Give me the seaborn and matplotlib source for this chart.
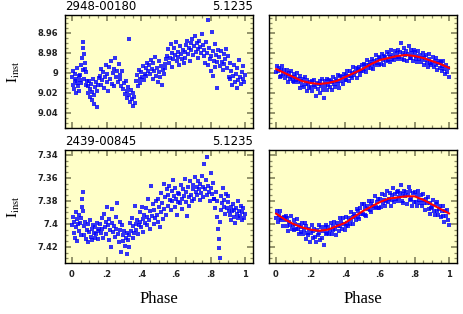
import matplotlib
matplotlib.use("Agg")
import matplotlib.pyplot as plt
import seaborn as sns
import pandas as pd
from matplotlib.ticker import MultipleLocator, FixedLocator, FixedFormatter

# ---------------- data ----------------
star_names = ["2948-00180", "2439-00845"]
period_label = "5.1235"

x_ticks = [0, 0.2, 0.4, 0.6, 0.8, 1.0]
x_tick_labels = ["0", ".2", ".4", ".6", ".8", "1"]
top_y_ticks = [8.96, 8.98, 9.00, 9.02, 9.04]
top_y_labels = ["8.96", "8.98", "9", "9.02", "9.04"]
bot_y_ticks = [7.34, 7.36, 7.38, 7.40, 7.42]
bot_y_labels = ["7.34", "7.36", "7.38", "7.4", "7.42"]

# top-left: star 1 folded at 5.1235
tl_phase = [
    0.003, 0.006, 0.009, 0.012, 0.015, 0.018, 0.021, 0.024, 0.027, 0.030, 0.034, 0.038, 0.041, 0.044,
    0.048, 0.052, 0.055, 0.058, 0.061, 0.064, 0.066, 0.068, 0.071, 0.074, 0.077, 0.080, 0.083, 0.086,
    0.090, 0.094, 0.098, 0.102, 0.106, 0.110, 0.114, 0.118, 0.122, 0.126, 0.130, 0.134, 0.138, 0.142, 0.146, 0.150, 0.155,
    0.160, 0.165, 0.170, 0.175, 0.180, 0.185, 0.190, 0.195, 0.200, 0.205, 0.210, 0.215, 0.220, 0.225, 0.230, 0.235,
    0.240, 0.245, 0.250, 0.255, 0.260, 0.265, 0.270, 0.275,
    0.280, 0.285, 0.290, 0.295, 0.300, 0.305, 0.310, 0.315, 0.320, 0.325, 0.330, 0.335, 0.340, 0.345, 0.350, 0.355, 0.360, 0.365,
    0.332, 0.370, 0.375, 0.380, 0.385, 0.390, 0.395, 0.400, 0.405, 0.410, 0.415, 0.420, 0.425, 0.430, 0.435, 0.440,
    0.445, 0.450, 0.455, 0.460, 0.465, 0.470, 0.475, 0.480, 0.485, 0.490, 0.495, 0.500, 0.505, 0.510, 0.515, 0.520,
    0.525, 0.530, 0.535, 0.540, 0.545,
    0.550, 0.555, 0.560, 0.565, 0.570, 0.575, 0.580, 0.585, 0.590, 0.595, 0.600, 0.605, 0.610, 0.615, 0.620, 0.625,
    0.630, 0.635, 0.640, 0.645,
    0.650, 0.655, 0.660, 0.665, 0.670, 0.675, 0.680, 0.685, 0.690, 0.695, 0.700, 0.705, 0.710, 0.715, 0.720, 0.725,
    0.730, 0.735, 0.740, 0.745, 0.750, 0.755, 0.760, 0.765, 0.770, 0.775,
    0.780, 0.784, 0.788, 0.792, 0.796, 0.800, 0.804, 0.808, 0.812, 0.816, 0.820, 0.824, 0.828, 0.832, 0.836, 0.840, 0.845,
    0.850, 0.855, 0.860, 0.865, 0.870, 0.875, 0.880, 0.885, 0.890, 0.895, 0.900, 0.905, 0.910,
    0.915, 0.920, 0.925, 0.930, 0.935, 0.940, 0.945, 0.950, 0.955, 0.960, 0.965, 0.970, 0.975, 0.980, 0.985, 0.990,
    0.995, 0.998,
]
tl_mag = [
    9.004, 9.012, 8.998, 9.016, 9.008, 9.001, 9.020, 9.006, 8.995, 9.010, 9.013, 9.003, 9.018, 9.007,
    9.002, 8.992, 9.010, 8.985, 8.997, 8.975, 8.969, 8.981, 9.006, 8.990, 8.996, 9.012, 8.999, 9.008,
    9.013, 9.020, 9.008, 9.024, 9.016, 9.011, 9.027, 9.019, 9.006, 9.022, 9.031, 9.014, 9.009, 9.018, 9.034, 9.012, 9.005,
    9.003, 8.996, 9.012, 9.007, 8.999, 9.015, 9.004, 8.992, 9.009, 9.001, 9.018, 8.994, 9.006, 8.988, 9.011, 9.000,
    8.996, 9.013, 8.985, 9.004, 8.998, 9.009, 8.991, 9.002,
    9.006, 9.013, 8.998, 9.016, 9.010, 9.021, 9.008, 9.018, 9.025, 9.014, 9.022, 9.029, 9.017, 9.026, 9.020, 9.033, 9.024, 9.030,
    8.966, 9.008, 9.002, 9.013, 8.997, 9.006, 9.010, 8.999, 9.004, 8.993, 9.007, 9.001, 8.995, 9.003, 8.990, 8.998,
    8.992, 9.001, 8.987, 8.996, 9.006, 8.990, 8.998, 8.984, 9.003, 8.995, 9.009, 8.999, 8.988, 9.004, 8.993, 9.012,
    8.997, 9.001, 8.991, 8.995, 8.986,
    8.983, 8.976, 8.990, 8.985, 8.971, 8.980, 8.994, 8.986, 8.975, 8.982, 8.969, 8.988, 8.979, 8.984, 8.992, 8.973,
    8.981, 8.986, 8.977, 8.990,
    8.979, 8.985, 8.972, 8.968, 8.981, 8.975, 8.988, 8.970, 8.977, 8.966, 8.982, 8.973, 8.963, 8.979, 8.970, 8.976,
    8.985, 8.968, 8.974, 8.980, 8.961, 8.972, 8.983, 8.977, 8.990, 8.969,
    8.980, 8.947, 8.992, 8.975, 8.986, 8.998, 8.983, 8.959, 8.978, 9.003, 8.988, 8.971, 8.994, 8.982, 9.015, 8.989, 8.977,
    8.984, 8.993, 8.978, 8.989, 8.997, 8.981, 8.991, 8.986, 8.976, 8.995, 8.983, 9.004, 8.990,
    9.006, 8.998, 9.012, 9.003, 8.992, 9.009, 9.001, 9.015, 8.995, 9.007, 8.987, 9.004, 9.011, 8.999, 9.006, 8.993,
    9.009, 9.002,
]

# top-right: star 1 folded at its true period, with fitted curve
tr_phase = [
    0.002, 0.007, 0.011, 0.016, 0.022, 0.027, 0.031, 0.036, 0.042, 0.047, 0.052, 0.056, 0.061, 0.067, 0.072, 0.076, 0.081, 0.087, 0.092, 0.097,
    0.102, 0.106, 0.111, 0.117, 0.121, 0.126, 0.132, 0.137, 0.141, 0.146, 0.152, 0.157, 0.161, 0.166, 0.172, 0.177, 0.181, 0.186, 0.192, 0.197,
    0.202, 0.206, 0.211, 0.217, 0.221, 0.226, 0.232, 0.237, 0.241, 0.246, 0.252, 0.257, 0.261, 0.266, 0.272, 0.277, 0.281, 0.286, 0.292, 0.297,
    0.302, 0.306, 0.311, 0.317, 0.321, 0.326, 0.332, 0.337, 0.341, 0.346, 0.352, 0.357, 0.361, 0.366, 0.372, 0.377, 0.381, 0.386, 0.392, 0.397,
    0.402, 0.406, 0.411, 0.417, 0.421, 0.426, 0.432, 0.437, 0.441, 0.446, 0.452, 0.457, 0.461, 0.466, 0.472, 0.477, 0.481, 0.486, 0.492, 0.497,
    0.502, 0.506, 0.511, 0.517, 0.521, 0.526, 0.532, 0.537, 0.541, 0.546, 0.552, 0.557, 0.561, 0.566, 0.572, 0.577, 0.581, 0.586, 0.592, 0.597,
    0.602, 0.606, 0.611, 0.617, 0.621, 0.626, 0.632, 0.637, 0.641, 0.646, 0.652, 0.657, 0.661, 0.666, 0.672, 0.677, 0.681, 0.686, 0.692, 0.697,
    0.702, 0.706, 0.711, 0.717, 0.721, 0.726, 0.732, 0.737, 0.741, 0.746, 0.752, 0.757, 0.761, 0.766, 0.772, 0.777, 0.781, 0.786, 0.792, 0.797,
    0.802, 0.806, 0.811, 0.817, 0.821, 0.826, 0.832, 0.837, 0.841, 0.846, 0.852, 0.857, 0.861, 0.866, 0.872, 0.877, 0.881, 0.886, 0.892, 0.897,
    0.902, 0.906, 0.911, 0.917, 0.921, 0.926, 0.932, 0.937, 0.941, 0.946, 0.952, 0.957, 0.961, 0.966, 0.972, 0.977, 0.981, 0.986, 0.992, 0.997,
]
tr_mag = [
    8.999, 8.993, 8.998, 8.995, 9.004, 8.997, 9.003, 8.993, 9.001, 8.997, 9.005, 9.001, 8.997, 9.003, 9.009, 9.000, 9.006, 8.998, 9.004, 9.008,
    9.001, 9.009, 9.004, 9.007, 9.000, 9.009, 9.006, 9.015, 9.003, 9.008, 9.012, 9.006, 9.014, 9.004, 9.011, 9.018, 9.007, 9.011, 9.015, 9.009,
    9.014, 9.008, 9.018, 9.012, 9.007, 9.014, 9.023, 9.010, 9.016, 9.011, 9.008, 9.020, 9.013, 9.006, 9.017, 9.025, 9.008, 9.013, 9.017, 9.006,
    9.012, 9.007, 9.014, 9.008, 9.017, 9.009, 9.004, 9.011, 9.014, 9.006, 9.008, 9.002, 9.011, 9.015, 9.003, 9.008, 9.004, 9.011, 9.001, 9.007,
    9.002, 9.007, 8.998, 9.003, 9.008, 8.998, 9.003, 9.000, 9.005, 8.994, 9.002, 8.999, 8.995, 9.005, 8.996, 8.998, 8.994, 9.002, 8.998, 8.992,
    8.998, 8.991, 8.996, 8.992, 8.999, 8.987, 8.995, 8.992, 8.989, 8.995, 8.986, 8.991, 8.996, 8.988, 8.992, 8.982, 8.990, 8.987, 8.992, 8.984,
    8.985, 8.991, 8.981, 8.987, 8.983, 8.992, 8.984, 8.988, 8.979, 8.987, 8.981, 8.984, 8.989, 8.977, 8.986, 8.982, 8.987, 8.978, 8.984, 8.980,
    8.986, 8.977, 8.984, 8.979, 8.970, 8.986, 8.980, 8.987, 8.975, 8.982, 8.978, 8.988, 8.981, 8.973, 8.985, 8.977, 8.985, 8.980, 8.988, 8.977,
    8.979, 8.986, 8.983, 8.989, 8.978, 8.986, 8.982, 8.989, 8.985, 8.980, 8.992, 8.984, 8.987, 8.982, 8.990, 8.994, 8.986, 8.981, 8.990, 8.992,
    8.990, 8.984, 8.994, 8.988, 8.992, 8.985, 8.997, 8.990, 8.988, 8.995, 8.989, 8.998, 8.993, 8.988, 8.996, 9.001, 8.992, 8.999, 8.995, 9.004,
]
fit_phase = [0.00, 0.05, 0.10, 0.15, 0.20, 0.25, 0.30, 0.35, 0.40, 0.45, 0.50,
             0.55, 0.60, 0.65, 0.70, 0.75, 0.80, 0.85, 0.90, 0.95, 1.00]
tr_fit = [8.996, 9.000, 9.004, 9.008, 9.010, 9.011, 9.010, 9.008, 9.004, 9.000, 8.996,
          8.991, 8.987, 8.985, 8.983, 8.982, 8.983, 8.985, 8.988, 8.991, 8.995]

# bottom-left: star 2 folded at 5.1235
bl_phase = [
    0.003, 0.007, 0.010, 0.014, 0.018, 0.021, 0.025, 0.029, 0.032, 0.036, 0.040, 0.043, 0.047, 0.051, 0.054, 0.058, 0.060, 0.062, 0.064,
    0.068, 0.072, 0.077, 0.081, 0.086, 0.090, 0.095, 0.099, 0.104, 0.108, 0.113, 0.117, 0.122, 0.126, 0.131, 0.135, 0.140, 0.144, 0.149, 0.153, 0.158,
    0.162, 0.167, 0.171, 0.176, 0.180, 0.185, 0.189, 0.194, 0.198, 0.203, 0.207, 0.212, 0.216, 0.221, 0.225, 0.230, 0.234, 0.239, 0.243,
    0.248, 0.252, 0.257, 0.261, 0.266, 0.270, 0.275, 0.279, 0.284, 0.288, 0.293, 0.297, 0.302, 0.306, 0.311, 0.315, 0.320, 0.324, 0.328,
    0.332, 0.336, 0.341, 0.345, 0.350, 0.354, 0.359, 0.363, 0.368, 0.372, 0.377, 0.381, 0.386,
    0.390, 0.395, 0.399, 0.404, 0.408, 0.413, 0.417, 0.422, 0.426, 0.431, 0.435, 0.440, 0.444, 0.449, 0.453, 0.458, 0.462, 0.467, 0.471, 0.476, 0.480, 0.485,
    0.489, 0.494, 0.498, 0.503, 0.507, 0.512, 0.516, 0.521, 0.525, 0.530, 0.534, 0.539, 0.543, 0.548,
    0.552, 0.557, 0.561, 0.566, 0.570, 0.575, 0.579, 0.584, 0.588, 0.593, 0.597, 0.602, 0.606, 0.611, 0.615,
    0.620, 0.624, 0.629, 0.633, 0.638, 0.642, 0.647, 0.651, 0.656, 0.660, 0.665, 0.669, 0.674, 0.678, 0.683, 0.687, 0.692, 0.696,
    0.701, 0.705, 0.710, 0.714, 0.719, 0.723, 0.728, 0.732, 0.737,
    0.741, 0.746, 0.750, 0.755, 0.759, 0.764, 0.768, 0.773, 0.777, 0.782, 0.786, 0.791, 0.795, 0.800, 0.804, 0.809, 0.813, 0.818,
    0.822, 0.827, 0.831, 0.836, 0.840, 0.843, 0.846, 0.849, 0.852, 0.855, 0.858, 0.862, 0.867, 0.871, 0.876, 0.880, 0.885, 0.889, 0.894, 0.898, 0.903, 0.907,
    0.911, 0.916, 0.920, 0.925, 0.929, 0.934, 0.938, 0.943, 0.947, 0.952, 0.956, 0.961, 0.965, 0.970, 0.974, 0.979, 0.983, 0.988, 0.992, 0.997,
]
bl_mag = [
    7.401, 7.394, 7.408, 7.398, 7.412, 7.390, 7.403, 7.396, 7.415, 7.400, 7.392, 7.406, 7.399, 7.410, 7.395, 7.385, 7.378, 7.372, 7.389,
    7.402, 7.410, 7.398, 7.413, 7.405, 7.400, 7.416, 7.407, 7.397, 7.411, 7.404, 7.414, 7.401, 7.408, 7.412, 7.403, 7.409, 7.399, 7.406, 7.413, 7.404,
    7.400, 7.408, 7.395, 7.404, 7.412, 7.391, 7.403, 7.398, 7.409, 7.385, 7.401, 7.414, 7.396, 7.405, 7.420, 7.399, 7.387, 7.407, 7.402,
    7.411, 7.394, 7.404, 7.382, 7.409, 7.416, 7.398, 7.405, 7.424, 7.401, 7.410, 7.415, 7.406, 7.419, 7.412, 7.426, 7.408, 7.414, 7.420,
    7.410, 7.399, 7.406, 7.395, 7.412, 7.402, 7.408, 7.384, 7.400, 7.405, 7.397, 7.409, 7.401,
    7.398, 7.390, 7.403, 7.385, 7.396, 7.407, 7.392, 7.399, 7.386, 7.401, 7.394, 7.378, 7.397, 7.389, 7.404, 7.367, 7.393, 7.383, 7.400, 7.388, 7.395, 7.380,
    7.392, 7.378, 7.398, 7.385, 7.403, 7.373, 7.390, 7.382, 7.396, 7.365, 7.387, 7.377, 7.392, 7.370,
    7.375, 7.384, 7.367, 7.379, 7.388, 7.371, 7.380, 7.362, 7.376, 7.385, 7.369, 7.378, 7.392, 7.373, 7.381,
    7.374, 7.382, 7.366, 7.378, 7.387, 7.370, 7.376, 7.361, 7.381, 7.372, 7.393, 7.368, 7.377, 7.384, 7.363, 7.375, 7.380, 7.370,
    7.366, 7.378, 7.359, 7.372, 7.368, 7.375, 7.363, 7.370, 7.379,
    7.365, 7.373, 7.358, 7.368, 7.377, 7.348, 7.370, 7.362, 7.375, 7.342, 7.367, 7.372, 7.380, 7.356, 7.369, 7.374, 7.364, 7.378,
    7.378, 7.386, 7.372, 7.380, 7.394, 7.404, 7.413, 7.421, 7.430, 7.398, 7.376, 7.388, 7.382, 7.369, 7.385, 7.379, 7.391, 7.374, 7.386, 7.381, 7.376, 7.389,
    7.392, 7.385, 7.397, 7.389, 7.383, 7.394, 7.388, 7.399, 7.386, 7.391, 7.380, 7.395, 7.389, 7.393, 7.384, 7.397, 7.390, 7.386, 7.395, 7.391,
]

# bottom-right: star 2 folded at its true period, with fitted curve
br_phase = [
    0.003, 0.008, 0.012, 0.017, 0.021, 0.026, 0.032, 0.037, 0.041, 0.046, 0.053, 0.057, 0.062, 0.066, 0.071, 0.077, 0.082, 0.086, 0.091, 0.096,
    0.103, 0.107, 0.112, 0.116, 0.122, 0.127, 0.131, 0.136, 0.142, 0.147, 0.151, 0.156, 0.162, 0.167, 0.171, 0.176, 0.182, 0.187, 0.191, 0.196,
    0.203, 0.207, 0.212, 0.216, 0.222, 0.227, 0.231, 0.236, 0.242, 0.247, 0.251, 0.256, 0.262, 0.267, 0.271, 0.276, 0.282, 0.287, 0.291, 0.296,
    0.303, 0.307, 0.312, 0.316, 0.322, 0.327, 0.331, 0.336, 0.342, 0.347, 0.351, 0.356, 0.362, 0.367, 0.371, 0.376, 0.382, 0.387, 0.391, 0.396,
    0.403, 0.407, 0.412, 0.416, 0.422, 0.427, 0.431, 0.436, 0.442, 0.447, 0.451, 0.456, 0.462, 0.467, 0.471, 0.476, 0.482, 0.487, 0.491, 0.496,
    0.503, 0.507, 0.512, 0.516, 0.522, 0.527, 0.531, 0.536, 0.542, 0.547, 0.551, 0.556, 0.562, 0.567, 0.571, 0.576, 0.582, 0.587, 0.591, 0.596,
    0.603, 0.607, 0.612, 0.616, 0.622, 0.627, 0.631, 0.636, 0.642, 0.647, 0.651, 0.656, 0.662, 0.667, 0.671, 0.676, 0.682, 0.687, 0.691, 0.696,
    0.703, 0.707, 0.712, 0.716, 0.722, 0.727, 0.731, 0.736, 0.742, 0.747, 0.751, 0.756, 0.762, 0.767, 0.771, 0.776, 0.782, 0.787, 0.791, 0.796,
    0.803, 0.807, 0.812, 0.816, 0.822, 0.827, 0.831, 0.836, 0.842, 0.847, 0.851, 0.856, 0.862, 0.867, 0.871, 0.876, 0.882, 0.887, 0.891, 0.896,
    0.903, 0.907, 0.912, 0.916, 0.922, 0.927, 0.931, 0.936, 0.942, 0.947, 0.951, 0.956, 0.962, 0.967, 0.971, 0.976, 0.982, 0.987, 0.991, 0.998,
]
br_mag = [
    7.395, 7.389, 7.398, 7.392, 7.395, 7.389, 7.397, 7.395, 7.402, 7.394, 7.397, 7.393, 7.402, 7.395, 7.406, 7.398, 7.401, 7.393, 7.404, 7.401,
    7.397, 7.405, 7.400, 7.404, 7.396, 7.404, 7.409, 7.401, 7.407, 7.403, 7.399, 7.409, 7.405, 7.399, 7.413, 7.402, 7.408, 7.410, 7.404, 7.416,
    7.408, 7.401, 7.412, 7.406, 7.404, 7.411, 7.416, 7.405, 7.410, 7.401, 7.408, 7.414, 7.403, 7.412, 7.406, 7.418, 7.403, 7.409, 7.401, 7.408,
    7.403, 7.409, 7.405, 7.399, 7.409, 7.402, 7.405, 7.398, 7.404, 7.410, 7.399, 7.402, 7.406, 7.395, 7.402, 7.398, 7.404, 7.395, 7.400, 7.405,
    7.402, 7.394, 7.399, 7.402, 7.395, 7.400, 7.390, 7.397, 7.394, 7.400, 7.391, 7.393, 7.397, 7.387, 7.394, 7.389, 7.396, 7.386, 7.391, 7.383,
    7.391, 7.383, 7.392, 7.386, 7.393, 7.384, 7.387, 7.380, 7.388, 7.383, 7.390, 7.380, 7.384, 7.386, 7.376, 7.385, 7.381, 7.386, 7.378, 7.386,
    7.378, 7.385, 7.374, 7.382, 7.379, 7.384, 7.375, 7.380, 7.371, 7.381, 7.378, 7.373, 7.384, 7.375, 7.379, 7.369, 7.381, 7.374, 7.378, 7.372,
    7.380, 7.371, 7.377, 7.373, 7.366, 7.380, 7.374, 7.382, 7.371, 7.376, 7.372, 7.383, 7.375, 7.368, 7.379, 7.371, 7.378, 7.384, 7.373, 7.381,
    7.372, 7.381, 7.375, 7.384, 7.371, 7.379, 7.382, 7.375, 7.384, 7.379, 7.374, 7.382, 7.388, 7.378, 7.382, 7.377, 7.387, 7.391, 7.382, 7.386,
    7.385, 7.379, 7.389, 7.392, 7.383, 7.389, 7.381, 7.392, 7.387, 7.384, 7.394, 7.389, 7.384, 7.393, 7.398, 7.389, 7.393, 7.388, 7.397, 7.401,
]
br_fit = [7.391, 7.396, 7.400, 7.403, 7.405, 7.406, 7.405, 7.402, 7.399, 7.394, 7.389,
          7.385, 7.381, 7.378, 7.377, 7.376, 7.376, 7.379, 7.383, 7.387, 7.391]

# ---------------- styling ----------------
sns.set_theme(style="ticks")
plt.rcParams["font.family"] = ["DejaVu Sans"]
plt.rcParams["mathtext.fontset"] = "stix"

BG = "#FFFFC8"
TICK_C = "#8C8C64"
PT_C = "#0000FF"

W, H = 463, 314
fig = plt.figure(figsize=(W / 100, H / 100), dpi=100)
fig.patch.set_facecolor("white")


def px_axes(x0, y0, x1, y1):
    return fig.add_axes([x0 / W, 1 - y1 / H, (x1 - x0) / W, (y1 - y0) / H])


ax_tl = px_axes(65, 15, 253, 128)
ax_tr = px_axes(269, 15, 457, 128)
ax_bl = px_axes(65, 150, 253, 263)
ax_br = px_axes(269, 150, 457, 263)

panels = [
    (ax_tl, tl_phase, tl_mag, None, (9.055, 8.942), top_y_ticks, top_y_labels, True, False),
    (ax_tr, tr_phase, tr_mag, tr_fit, (9.055, 8.942), top_y_ticks, top_y_labels, False, False),
    (ax_bl, bl_phase, bl_mag, None, (7.434, 7.3357), bot_y_ticks, bot_y_labels, True, True),
    (ax_br, br_phase, br_mag, br_fit, (7.434, 7.3357), bot_y_ticks, bot_y_labels, False, True),
]

for ax, ph, mg, fit, ylim, yt, ytl, ylab, xlab in panels:
    ax.set_facecolor(BG)
    df = pd.DataFrame({"phase": ph, "mag": mg})
    sns.scatterplot(data=df, x="phase", y="mag", ax=ax, marker="s", s=6.5,
                    color=PT_C, linewidth=0, alpha=0.8, legend=False)
    if fit is not None:
        sns.lineplot(x=fit_phase, y=fit, ax=ax, color="red", lw=1.5, zorder=5)
    ax.set_xlim(-0.04, 1.045)
    ax.set_ylim(*ylim)
    ax.set_xlabel("")
    ax.set_ylabel("")
    ax.xaxis.set_major_locator(FixedLocator(x_ticks))
    ax.xaxis.set_minor_locator(MultipleLocator(0.05))
    ax.yaxis.set_major_locator(FixedLocator(yt))
    ax.yaxis.set_minor_locator(MultipleLocator(0.005))
    if xlab:
        ax.xaxis.set_major_formatter(FixedFormatter(x_tick_labels))
    else:
        ax.set_xticklabels([])
    if ylab:
        ax.yaxis.set_major_formatter(FixedFormatter(ytl))
    else:
        ax.set_yticklabels([])
    ax.tick_params(which="both", direction="in", top=True, right=True,
                   color=TICK_C, labelcolor="#222222", labelsize=6, pad=5)
    ax.tick_params(which="major", length=4, width=1.3)
    ax.tick_params(which="minor", length=2.5, width=0.9)
    for lab in ax.get_xticklabels() + ax.get_yticklabels():
        lab.set_fontweight("bold")
    for sp in ax.spines.values():
        sp.set_color("black")
        sp.set_linewidth(1.0)
        sp.set_zorder(10)

# titles over the left panels
for ax, name in [(ax_tl, star_names[0]), (ax_bl, star_names[1])]:
    ax.text(0.0, 1.015, name, transform=ax.transAxes, ha="left", va="bottom",
            fontsize=8.5, color="black")
    ax.text(1.0, 1.015, period_label, transform=ax.transAxes, ha="right", va="bottom",
            fontsize=8.5, color="black")

# y labels
for yc in (72, 207):
    fig.text(14 / W, 1 - yc / H, r"$\mathrm{I}_{\mathrm{inst}}$", rotation=90,
             ha="center", va="center", fontsize=11, color="black")

# x labels
for xc in (159, 363):
    fig.text(xc / W, 1 - 299 / H, "Phase", ha="center", va="center",
             fontsize=12, family=["Liberation Serif", "DejaVu Serif"], color="black")

fig.savefig("out.png", dpi=100, facecolor="white")
